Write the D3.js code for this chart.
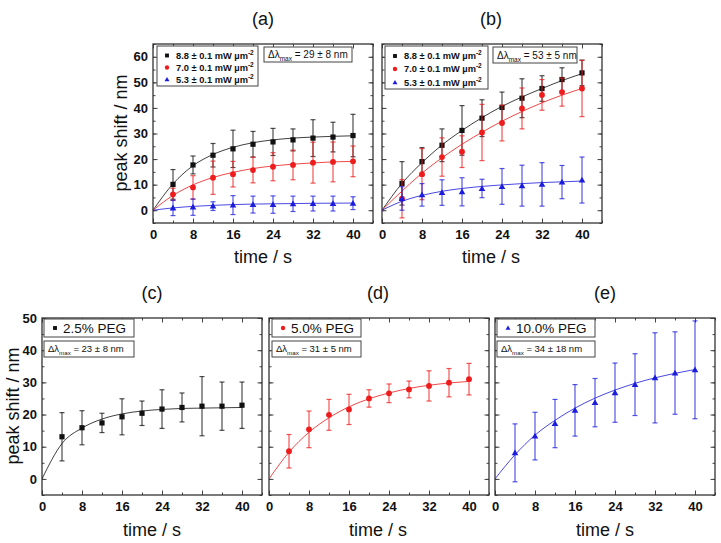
<!DOCTYPE html>
<html>
<head>
<meta charset="utf-8">
<script src="https://cdn.jsdelivr.net/npm/d3@7"></script>
<style>
  body { margin: 0; background: #fff; }
  svg { display: block; font-family: "Liberation Sans", Arial, sans-serif; }
</style>
</head>
<body>
<svg id="chart" width="721" height="543"></svg>
<script>
// time points (s)
const times = [4, 8, 12, 16, 20, 24, 28, 32, 36, 40];
const fitTimes = [0, 4, 8, 12, 16, 20, 24, 28, 32, 36, 40];

// panel (a)
const aBlack = [10.1, 17.7, 21.5, 24.0, 25.8, 26.7, 27.5, 28.2, 28.6, 29.2];
const aBlackErr = [5.8, 3.5, 4.6, 7.3, 5.0, 5.3, 4.3, 7.2, 5.8, 8.3];
const aRed = [6.2, 8.9, 12.7, 14.1, 15.7, 17.0, 17.7, 18.6, 18.9, 19.1];
const aRedErr = [2.4, 4.6, 6.5, 5.0, 5.0, 5.5, 5.8, 8.0, 7.8, 6.0];
const aBlue = [0.9, 1.2, 1.6, 2.0, 2.2, 2.2, 2.5, 2.6, 2.6, 2.75];
const aBlueErr = [3.0, 3.2, 1.7, 3.7, 3.3, 3.4, 3.0, 2.9, 2.9, 2.5];
const aBlackFit = [0, 10.3, 17.4, 21.8, 24.6, 26.4, 27.5, 28.2, 28.6, 28.9, 29.1];
const aRedFit = [0, 5.8, 9.9, 12.8, 14.8, 16.3, 17.3, 18.0, 18.5, 18.9, 19.1];
const aBlueFit = [0, 0.9, 1.5, 1.9, 2.2, 2.4, 2.5, 2.6, 2.7, 2.75, 2.8];

// panel (b)
const bBlack = [10.5, 19.0, 25.4, 31.2, 36.0, 40.2, 43.8, 47.6, 51.1, 53.7];
const bBlackErr = [8.5, 5.5, 6.4, 9.7, 7.2, 6.0, 7.6, 5.0, 4.6, 5.0];
const bRed = [4.5, 14.1, 20.8, 22.9, 30.4, 34.1, 39.8, 45.1, 46.2, 47.6];
const bRedErr = [7.5, 10.0, 7.5, 6.2, 11.0, 7.0, 8.0, 6.0, 5.5, 11.0];
const bBlue = [4.6, 6.0, 6.9, 7.2, 8.5, 9.3, 9.6, 10.1, 11.0, 11.8];
const bBlueErr = [4.6, 4.4, 5.0, 5.5, 3.6, 7.0, 8.0, 8.5, 6.5, 9.0];
const bBlackFit = [0, 10.5, 18.6, 25.5, 31.2, 36.2, 40.6, 44.3, 47.6, 50.7, 53.4];
const bRedFit = [0, 7.5, 14.5, 20.5, 25.8, 30.5, 34.8, 38.6, 42.0, 45.0, 47.6];
const bBlueFit = [0, 3.5, 5.8, 7.4, 8.5, 9.3, 9.9, 10.4, 10.8, 11.1, 11.4];

// panel (c) 2.5% PEG
const cVals = [13.1, 15.9, 17.4, 19.3, 20.4, 21.7, 22.2, 22.6, 22.6, 22.9];
const cErr = [7.5, 5.3, 3.0, 5.6, 3.8, 6.0, 4.5, 9.2, 7.5, 7.2];
const cFit = [0, 11.0, 15.8, 18.6, 20.2, 21.1, 21.6, 21.9, 22.0, 22.1, 22.2];

// panel (d) 5.0% PEG
const dVals = [8.6, 15.4, 19.9, 21.6, 25.0, 26.6, 27.8, 28.9, 29.9, 31.0];
const dErr = [5.2, 5.7, 4.8, 4.7, 2.7, 2.9, 2.6, 4.7, 4.4, 4.9];
const dFit = [0, 8.3, 14.5, 19.0, 22.4, 24.9, 26.7, 28.1, 29.1, 29.8, 30.3];

// panel (e) 10.0% PEG
const eVals = [8.1, 13.3, 17.2, 21.3, 23.7, 26.8, 29.3, 31.4, 32.9, 33.9];
const eErr = [9.0, 7.4, 7.5, 8.0, 7.5, 9.2, 9.6, 14.0, 12.8, 15.2];
const eFit = [0, 7.5, 13.6, 18.2, 22.0, 25.1, 27.6, 29.7, 31.4, 32.8, 34.0];

// legend labels
const powerLabels = ["8.8 \u00b1 0.1 mW \u00b5m", "7.0 \u00b1 0.1 mW \u00b5m", "5.3 \u00b1 0.1 mW \u00b5m"];
const xTicks = [0, 8, 16, 24, 32, 40];
const topYTicks = [0, 10, 20, 30, 40, 50, 60];
const botYTicks = [0, 10, 20, 30, 40, 50];

const BLACK = "#111", RED = "#ee1c1c", BLUE = "#1c1cdd";

const svg = d3.select("#chart");

function drawPanel(p) {
  const x = d3.scaleLinear().domain(p.xd).range([p.x0, p.x1]);
  const y = d3.scaleLinear().domain(p.yd).range([p.y1, p.y0]);
  const g = svg.append("g");

  const clipId = "clip" + p.name;
  svg.append("clipPath").attr("id", clipId).append("rect")
    .attr("x", p.x0).attr("y", p.y0).attr("width", p.x1 - p.x0).attr("height", p.y1 - p.y0);

  const minorX = d3.range(0, 45, 4), minorY = d3.range(p.yd[0], p.yd[1] + 0.1, 5);

  // ticks (inward) on all four sides
  function axes(gen, tr, major, minor, labels) {
    g.append("g").attr("transform", tr)
      .call(gen(x === null ? y : null))
  }
  const sides = [
    {gen: d3.axisBottom, sc: x, tr: `translate(0,${p.y1})`, major: xTicks, minor: minorX, lab: true},
    {gen: d3.axisTop, sc: x, tr: `translate(0,${p.y0})`, major: xTicks, minor: minorX, lab: false},
    {gen: d3.axisLeft, sc: y, tr: `translate(${p.x0},0)`, major: p.yTicks, minor: minorY, lab: p.yLabels},
    {gen: d3.axisRight, sc: y, tr: `translate(${p.x1},0)`, major: p.yTicks, minor: minorY, lab: false}
  ];
  sides.forEach(s => {
    g.append("g").attr("transform", s.tr)
      .call(s.gen(s.sc).tickValues(s.minor).tickSize(-2.5).tickFormat(""))
      .call(a => a.select(".domain").remove())
      .selectAll("line").attr("stroke", "#444");
    const ax = g.append("g").attr("transform", s.tr)
      .call(s.gen(s.sc).tickValues(s.major).tickSize(-4.5).tickPadding(s.sc === x ? 7 : 5)
        .tickFormat(s.lab ? d3.format("d") : ""));
    ax.select(".domain").remove();
    ax.selectAll("line").attr("stroke", "#444");
    ax.selectAll("text").attr("font-size", 13).attr("font-weight", "bold").attr("fill", "#111")
      .attr("font-family", "'Liberation Sans', Arial, sans-serif");
  });

  // frame
  g.append("rect").attr("x", p.x0).attr("y", p.y0)
    .attr("width", p.x1 - p.x0).attr("height", p.y1 - p.y0)
    .attr("fill", "none").attr("stroke", "#333").attr("stroke-width", 1.3);

  const plot = g.append("g").attr("clip-path", `url(#${clipId})`);
  const line = d3.line().x((d, i) => x(fitTimes[i])).y(d => y(d)).curve(d3.curveMonotoneX);

  p.series.forEach(s => {
    plot.append("path").datum(s.fit).attr("d", line)
      .attr("fill", "none").attr("stroke", s.color).attr("stroke-width", 1)
      .attr("stroke-opacity", 0.8);
    const eb = plot.append("g").attr("stroke", s.color).attr("stroke-width", 1.2).attr("stroke-opacity", 0.75);
    times.forEach((t, i) => {
      const cx = x(t), hi = y(s.vals[i] + s.err[i]), lo = y(s.vals[i] - s.err[i]);
      eb.append("line").attr("x1", cx).attr("x2", cx).attr("y1", hi).attr("y2", lo);
      eb.append("line").attr("x1", cx - 2.5).attr("x2", cx + 2.5).attr("y1", hi).attr("y2", hi);
      eb.append("line").attr("x1", cx - 2.5).attr("x2", cx + 2.5).attr("y1", lo).attr("y2", lo);
    });
    times.forEach((t, i) => marker(plot, s.shape, x(t), y(s.vals[i]), s.color, 1));
  });
}

function marker(g, shape, cx, cy, color, k) {
  if (shape === "square") {
    g.append("rect").attr("x", cx - 2.6 * k).attr("y", cy - 2.6 * k)
      .attr("width", 5.2 * k).attr("height", 5.2 * k).attr("fill", color);
  } else if (shape === "circle") {
    g.append("circle").attr("cx", cx).attr("cy", cy).attr("r", 2.9 * k).attr("fill", color);
  } else {
    const s = 3.3 * k;
    g.append("path").attr("d", `M${cx},${cy - s}L${cx + s},${cy + s * 0.75}L${cx - s},${cy + s * 0.75}Z`)
      .attr("fill", color);
  }
}

function deltaBox(x0, y0, w, h, val, fs) {
  svg.append("rect").attr("x", x0).attr("y", y0).attr("width", w).attr("height", h)
    .attr("fill", "#fff").attr("stroke", "#444").attr("stroke-width", 1);
  const t = svg.append("text").attr("x", x0 + 4).attr("y", y0 + h / 2 + fs * 0.36)
    .attr("font-size", fs).attr("fill", "#111");
  t.append("tspan").text("\u0394\u03bb");
  t.append("tspan").attr("font-size", fs * 0.65).attr("dy", fs * 0.3).text("max");
  t.append("tspan").attr("dy", -fs * 0.3).text(" = " + val);
}

function powerLegend(x0, y0, w, h, rowY, mx) {
  svg.append("rect").attr("x", x0).attr("y", y0).attr("width", w).attr("height", h)
    .attr("fill", "#fff").attr("stroke", "#444").attr("stroke-width", 1);
  const cols = [BLACK, RED, BLUE], shapes = ["square", "circle", "triangle"];
  powerLabels.forEach((lab, i) => {
    const yy = y0 + rowY[i];
    marker(svg, shapes[i], mx, yy, cols[i], 0.75);
    const t = svg.append("text").attr("x", mx + 9).attr("y", yy + 3.4)
      .attr("font-size", 9.3).attr("font-weight", "bold").attr("fill", "#111");
    t.append("tspan").text(lab);
    t.append("tspan").attr("font-size", 6.5).attr("dy", -4).text("-2");
  });
}

function pegLegend(x0, y0, w, h, label, shape, color) {
  svg.append("rect").attr("x", x0).attr("y", y0).attr("width", w).attr("height", h)
    .attr("fill", "#fff").attr("stroke", "#444").attr("stroke-width", 1);
  marker(svg, shape, x0 + 11, y0 + h / 2, color, 0.75);
  svg.append("text").attr("x", x0 + 19).attr("y", y0 + h / 2 + 4.8)
    .attr("font-size", 13.5).attr("fill", "#111").text(label);
}

const topY = {y0: 44, y1: 223, yd: [-5, 65], yTicks: topYTicks, xd: [0, 44]};
const botY = {y0: 318, y1: 495, yd: [-5, 50], yTicks: botYTicks, xd: [0, 44]};

drawPanel(Object.assign({name: "a", x0: 153, x1: 373, yLabels: true, series: [
  {vals: aBlack, err: aBlackErr, fit: aBlackFit, color: BLACK, shape: "square"},
  {vals: aRed, err: aRedErr, fit: aRedFit, color: RED, shape: "circle"},
  {vals: aBlue, err: aBlueErr, fit: aBlueFit, color: BLUE, shape: "triangle"}
]}, topY));
drawPanel(Object.assign({name: "b", x0: 382, x1: 602, yLabels: false, series: [
  {vals: bBlack, err: bBlackErr, fit: bBlackFit, color: BLACK, shape: "square"},
  {vals: bRed, err: bRedErr, fit: bRedFit, color: RED, shape: "circle"},
  {vals: bBlue, err: bBlueErr, fit: bBlueFit, color: BLUE, shape: "triangle"}
]}, topY));
drawPanel(Object.assign({name: "c", x0: 42, x1: 262, yLabels: true, series: [
  {vals: cVals, err: cErr, fit: cFit, color: BLACK, shape: "square"}
]}, botY));
drawPanel(Object.assign({name: "d", x0: 269, x1: 489, yLabels: false, series: [
  {vals: dVals, err: dErr, fit: dFit, color: RED, shape: "circle"}
]}, botY));
drawPanel(Object.assign({name: "e", x0: 495, x1: 715, yLabels: false, series: [
  {vals: eVals, err: eErr, fit: eFit, color: BLUE, shape: "triangle"}
]}, botY));

// legends
powerLegend(157, 46, 101, 40, [9.5, 21.5, 33.5], 167);
deltaBox(264, 47, 88, 15, "29 \u00b1 8 nm", 10);
powerLegend(385, 46, 103, 43, [10, 23, 36.5], 395);
deltaBox(493, 47, 84, 16, "53 \u00b1 5 nm", 10);

pegLegend(44, 319, 90, 18, "2.5% PEG", "square", BLACK);
deltaBox(44, 341, 90, 16, "23 \u00b1 8 nm", 9.5);
pegLegend(272, 319, 89, 18, "5.0% PEG", "circle", RED);
deltaBox(272, 341, 89, 16, "31 \u00b1 5 nm", 9.5);
pegLegend(497, 319, 98, 18, "10.0% PEG", "triangle", BLUE);
deltaBox(497, 341, 98, 16, "34 \u00b1 18 nm", 9.5);

// titles and axis labels
const titles = [["(a)", 263, 25], ["(b)", 491, 25], ["(c)", 152, 299], ["(d)", 378, 299], ["(e)", 605, 299]];
titles.forEach(t => svg.append("text").attr("x", t[1]).attr("y", t[2]).attr("text-anchor", "middle")
  .attr("font-size", 18).attr("fill", "#111").text(t[0]));

[[263, 263], [491, 263], [152, 536], [378, 536], [605, 536]].forEach(p =>
  svg.append("text").attr("x", p[0]).attr("y", p[1]).attr("text-anchor", "middle")
    .attr("font-size", 18).attr("fill", "#111").text("time / s"));

[[127, 133], [19, 406]].forEach(p =>
  svg.append("text").attr("transform", `translate(${p[0]},${p[1]}) rotate(-90)`)
    .attr("text-anchor", "middle").attr("font-size", 18).attr("fill", "#111").text("peak shift / nm"));
</script>
</body>
</html>
